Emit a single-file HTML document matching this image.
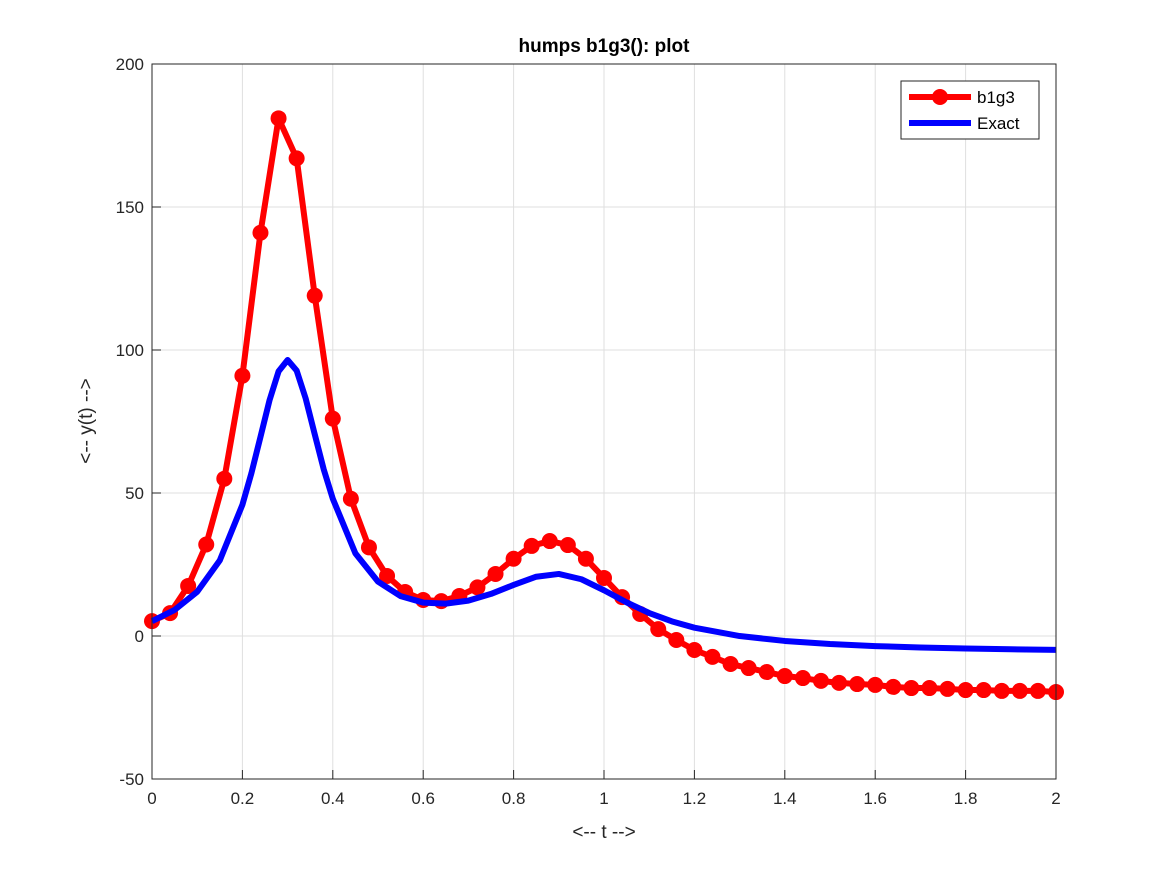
<!DOCTYPE html>
<html><head><meta charset="utf-8"><style>
body{margin:0;background:#fff;}
svg text{font-family:"Liberation Sans","DejaVu Sans",sans-serif;}
</style></head><body>
<svg id="chart" width="1167" height="875" xmlns="http://www.w3.org/2000/svg">
<rect x="0" y="0" width="1167" height="875" fill="#fff"/>
<g id="grid"></g>
<g id="series"></g>
<rect x="152" y="64" width="904" height="715" fill="none" stroke="#262626" stroke-width="1"/>
<g id="ticks"></g>
<text x="604" y="52" text-anchor="middle" font-size="19" font-weight="bold" fill="#000">humps b1g3(): plot</text>
<text x="604" y="838" text-anchor="middle" font-size="19" fill="#262626">&lt;-- t --&gt;</text>
<text transform="translate(92,421) rotate(-90)" text-anchor="middle" font-size="19" fill="#262626">&lt;-- y(t) --&gt;</text>
<g>
<rect x="901" y="81" width="138" height="58" fill="#fff" stroke="#262626" stroke-width="1"/>
<line x1="909" y1="97" x2="971" y2="97" stroke="#ff0000" stroke-width="6"/>
<circle cx="940" cy="97" r="8" fill="#ff0000"/>
<text x="977" y="103" font-size="17" fill="#000">b1g3</text>
<line x1="909" y1="123" x2="971" y2="123" stroke="#0000ff" stroke-width="6"/>
<text x="977" y="129" font-size="17" fill="#000">Exact</text>
</g>
</svg>
<script>
const b1g3T = [0,0.04,0.08,0.12,0.16,0.2,0.24,0.28,0.32,0.36,0.4,0.44,0.48,0.52,0.56,0.6,0.64,0.68,0.72,0.76,0.8,0.84,0.88,0.92,0.96,1,1.04,1.08,1.12,1.16,1.2,1.24,1.28,1.32,1.36,1.4,1.44,1.48,1.52,1.56,1.6,1.64,1.68,1.72,1.76,1.8,1.84,1.88,1.92,1.96,2];
const b1g3Y = [5.2,8,17.5,32,55,91,141,181,167,119,76,48,31,21,15.4,12.6,12.2,14,17,21.7,27,31.5,33.2,31.8,27,20.3,13.6,7.7,2.4,-1.4,-4.9,-7.3,-9.8,-11.2,-12.6,-14,-14.7,-15.7,-16.4,-16.8,-17.1,-17.8,-18.2,-18.2,-18.5,-18.9,-18.9,-19.2,-19.2,-19.2,-19.6];
const exactT = [0,0.05,0.1,0.15,0.2,0.22,0.24,0.26,0.28,0.3,0.32,0.34,0.36,0.38,0.4,0.45,0.5,0.55,0.6,0.65,0.7,0.75,0.8,0.85,0.9,0.95,1,1.05,1.1,1.15,1.2,1.3,1.4,1.5,1.6,1.7,1.8,1.9,2];
const exactY = [5.18,9.1,15.47,26.43,45.89,56.97,69.63,82.43,92.51,96.5,92.81,83.04,70.55,58.2,48,28.89,19,13.94,11.69,11.31,12.38,14.71,17.85,20.73,21.7,19.84,16,11.75,8.04,5.12,2.91,-0.01,-1.73,-2.81,-3.52,-4.02,-4.38,-4.65,-4.86];
const xTicks = [0,0.2,0.4,0.6,0.8,1,1.2,1.4,1.6,1.8,2];
const xTickLabels = ["0","0.2","0.4","0.6","0.8","1","1.2","1.4","1.6","1.8","2"];
const yTicks = [-50,0,50,100,150,200];
const yTickLabels = ["-50","0","50","100","150","200"];

const X0=152,X1=1056,Y0=779,Y1=64;
function xs(t){return X0+(t-0)/(2-0)*(X1-X0);}
function ys(v){return Y0-(v+50)/250*(Y0-Y1);}
const NS="http://www.w3.org/2000/svg";
function mk(tag,attrs,parent){const e=document.createElementNS(NS,tag);for(const k in attrs)e.setAttribute(k,attrs[k]);parent.appendChild(e);return e;}
const grid=document.getElementById('grid'),ticks=document.getElementById('ticks'),series=document.getElementById('series');
xTicks.forEach((t,i)=>{
  const g=mk('line',{x1:xs(t),x2:xs(t),y1:Y1,y2:Y0,stroke:'#dfdfdf','stroke-width':1},grid);
  
  
  const tk=mk('line',{x1:xs(t),x2:xs(t),y1:Y0,y2:Y0-9,stroke:'#262626','stroke-width':1},ticks);
  
  
  const tx=mk('text',{x:xs(t),y:Y0+25,'text-anchor':'middle','font-size':17,fill:'#262626'},ticks);
  tx.textContent=xTickLabels[i];
  
  
});
yTicks.forEach((v,i)=>{
  const g=mk('line',{x1:X0,x2:X1,y1:ys(v),y2:ys(v),stroke:'#dfdfdf','stroke-width':1},grid);
  
  
  const tk=mk('line',{x1:X0,x2:X0+9,y1:ys(v),y2:ys(v),stroke:'#262626','stroke-width':1},ticks);
  
  
  const tx=mk('text',{x:X0-8,y:ys(v)+6,'text-anchor':'end','font-size':17,fill:'#262626'},ticks);
  tx.textContent=yTickLabels[i];
  
  
});
const rp=mk('polyline',{points:b1g3T.map((t,i)=>xs(t)+','+ys(b1g3Y[i])).join(' '),fill:'none',stroke:'#ff0000','stroke-width':6,'stroke-linejoin':'round'},series);


b1g3T.forEach((t,i)=>{
  const c=mk('circle',{cx:xs(t),cy:ys(b1g3Y[i]),r:8,fill:'#ff0000'},series);
  
  
});
const bp=mk('polyline',{points:exactT.map((t,i)=>xs(t)+','+ys(exactY[i])).join(' '),fill:'none',stroke:'#0000ff','stroke-width':6,'stroke-linejoin':'round'},series);


</script>
</body></html>
